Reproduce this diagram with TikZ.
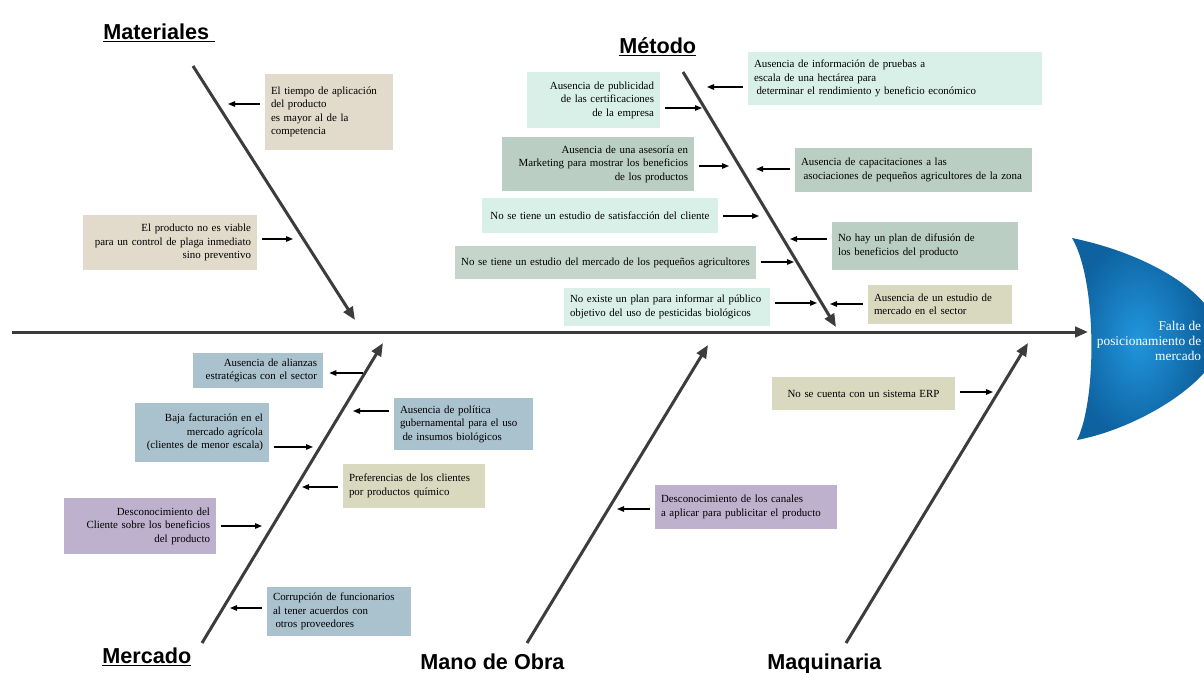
\documentclass[tikz,border=0pt]{standalone}
\usepackage{fontspec}
\setmainfont{Liberation Serif}
\newfontfamily\headfont{Liberation Sans}
\usetikzlibrary{arrows.meta}

\definecolor{bonegray}{HTML}{3C3C3C}
\definecolor{tanbox}{HTML}{E2DACB}
\definecolor{mintbox}{HTML}{D9F0E9}
\definecolor{sagebox}{HTML}{BBCEC3}
\definecolor{steelbox}{HTML}{AAC1CE}
\definecolor{lilacbox}{HTML}{BDB1CE}
\definecolor{olivebox}{HTML}{D9D9C0}
\definecolor{headlight}{HTML}{2196DC}
\definecolor{headdark}{HTML}{0E62A0}

\tikzset{
  bone/.style={line width=0.6mm, draw=bonegray, -{Triangle[length=2.6mm,width=2.1mm]}},
  cause/.style={line width=0.25mm, -{Triangle[length=1.4mm,width=1.1mm]}, shorten <=1mm},
  box/.style={inner xsep=1.2mm, inner ysep=0.6mm, font=\fontsize{6.2}{7.7}\selectfont},
  branchlabel/.style={font=\headfont\bfseries\fontsize{12.3}{14}\selectfont, inner sep=0pt},
}

\begin{document}
\begin{tikzpicture}[x=0.2mm,y=-0.2mm]
\useasboundingbox (0,0) rectangle (1204,672);

% Head of the fish
\shade[inner color=headlight, outer color=headdark] (1072,238) .. controls (1130,250) and (1180,275) .. (1204,303)
    -- (1204,373) .. controls (1175,405) and (1120,432) .. (1077,440)
    .. controls (1097,400) and (1097,280) .. (1072,238) -- cycle;
\node[align=right, anchor=east, text=white, inner sep=0.3mm, font=\fontsize{7.6}{8.6}\selectfont] (effect) at (1203,341) {Falta de\\posicionamiento de\\mercado};

% Spine and bones
\coordinate (tailS) at (12,332);
\coordinate (headS) at (1088,332);
\draw[bone] (tailS) -- (headS);

\coordinate (matTop) at (193,66);  \coordinate (matEnd) at (355,320);
\coordinate (metTop) at (683,72);  \coordinate (metEnd) at (836,327);
\coordinate (merBot) at (202,643); \coordinate (merEnd) at (383,343);
\coordinate (manBot) at (527,643); \coordinate (manEnd) at (708,345);
\coordinate (maqBot) at (846,643); \coordinate (maqEnd) at (1028,343);
\draw[bone] (matTop) -- (matEnd);
\draw[bone] (metTop) -- (metEnd);
\draw[bone] (merBot) -- (merEnd);
\draw[bone] (manBot) -- (manEnd);
\draw[bone] (maqBot) -- (maqEnd);

% Branch labels
\node[branchlabel, anchor=base west] (materiales) at (103,39) {\underline{Materiales\ }};
\node[branchlabel, anchor=base west] (metodo) at (619,53) {\underline{Método}};
\node[branchlabel, anchor=base west] (mercado) at (102,663) {\underline{Mercado}};
\node[branchlabel, anchor=base west] (manoobra) at (420,669) {Mano de Obra};
\node[branchlabel, anchor=base west] (maquinaria) at (767,669) {Maquinaria};

% Materiales
\node[box, fill=tanbox, minimum width=25.6mm, minimum height=15.2mm, text width=23.2mm, align=left] (mat1) at (329,112)
    {El tiempo de aplicación\\del producto\\es mayor al de la\\competencia};
\node[box, fill=tanbox, minimum width=34.8mm, minimum height=11mm, text width=32.4mm, align=right] (mat2) at (170,242.5)
    {El producto no es viable\\para un control de plaga inmediato\\sino preventivo};
\coordinate (mat1t) at (228,104);
\coordinate (mat2t) at (293,239);
\draw[cause] (mat1.west |- mat1t) -- (mat1t);
\draw[cause] (mat2.east |- mat2t) -- (mat2t);

% Metodo, left side
\node[box, fill=mintbox, minimum width=26.6mm, minimum height=11.2mm, text width=24.2mm, align=right] (met1) at (593.5,100)
    {Ausencia de publicidad\\de las certificaciones\\de la empresa};
\node[box, fill=sagebox, minimum width=38.4mm, minimum height=10.8mm, text width=36mm, align=right] (met2) at (598,164)
    {Ausencia de una asesoría en\\Marketing para mostrar los beneficios\\de los productos};
\node[box, fill=mintbox, minimum width=47.2mm, minimum height=7mm, text width=44.8mm, align=center] (met3) at (600,215.5)
    {No se tiene un estudio de satisfacción del cliente};
\node[box, fill=sagebox!85!white, minimum width=60.2mm, minimum height=6.6mm, text width=57.8mm, align=center] (met4) at (605.5,262.5)
    {No se tiene un estudio del mercado de los pequeños agricultores};
\node[box, fill=mintbox, minimum width=41.2mm, minimum height=7.6mm, text width=38.8mm, align=left] (met5) at (667,307)
    {No existe un plan para informar al público\\objetivo del uso de pesticidas biológicos};
\coordinate (met1t) at (702,108);
\coordinate (met2t) at (729,166);
\coordinate (met3t) at (759,216);
\coordinate (met4t) at (794,262);
\coordinate (met5t) at (817,303);
\draw[cause] (met1.east |- met1t) -- (met1t);
\draw[cause] (met2.east |- met2t) -- (met2t);
\draw[cause] (met3.east |- met3t) -- (met3t);
\draw[cause] (met4.east |- met4t) -- (met4t);
\draw[cause] (met5.east |- met5t) -- (met5t);

% Metodo, right side
\node[box, fill=mintbox, minimum width=58.8mm, minimum height=10.6mm, text width=56.4mm, align=left] (met6) at (895,78.5)
    {Ausencia de información de pruebas a\\escala de una hectárea para\\\hspace*{0.5mm}determinar el rendimiento y beneficio económico};
\node[box, fill=sagebox, minimum width=47.4mm, minimum height=8.8mm, text width=45mm, align=left] (met7) at (913.5,170)
    {Ausencia de capacitaciones a las\\\hspace*{0.5mm}asociaciones de pequeños agricultores de la zona};
\node[box, fill=sagebox, minimum width=37.2mm, minimum height=9.6mm, text width=34.8mm, align=left] (met8) at (925,246)
    {No hay un plan de difusión de\\los beneficios del producto};
\node[box, fill=olivebox, minimum width=28.8mm, minimum height=7.8mm, text width=26.4mm, align=left] (met9) at (940,304.5)
    {Ausencia de un estudio de\\mercado en el sector};
\coordinate (met6t) at (707,87);
\coordinate (met7t) at (756,169);
\coordinate (met8t) at (790,239);
\coordinate (met9t) at (830,304);
\draw[cause] (met6.west |- met6t) -- (met6t);
\draw[cause] (met7.west |- met7t) -- (met7t);
\draw[cause] (met8.west |- met8t) -- (met8t);
\draw[cause] (met9.west |- met9t) -- (met9t);

% Mercado
\node[box, fill=steelbox, minimum width=26mm, minimum height=7mm, text width=23.6mm, align=right] (mer1) at (258,370.5)
    {Ausencia de alianzas\\estratégicas con el sector};
\node[box, fill=steelbox, minimum width=26.8mm, minimum height=11.8mm, text width=24.4mm, align=right] (mer2) at (202,432.5)
    {Baja facturación en el\\mercado agrícola\\(clientes de menor escala)};
\node[box, fill=lilacbox, minimum width=30.4mm, minimum height=11.2mm, text width=28mm, align=right] (mer3) at (140,526)
    {Desconocimiento del\\Cliente sobre los beneficios\\del producto};
\node[box, fill=steelbox, minimum width=27.8mm, minimum height=10.4mm, text width=25.4mm, align=left] (mer4) at (463.5,424)
    {Ausencia de política\\gubernamental para el uso\\\hspace*{0.5mm}de insumos biológicos};
\node[box, fill=olivebox, minimum width=28.4mm, minimum height=8.8mm, text width=26mm, align=left] (mer5) at (414,486)
    {Preferencias de los clientes\\por productos químico};
\node[box, fill=steelbox, minimum width=28.8mm, minimum height=9.8mm, text width=26.4mm, align=left] (mer6) at (339,611.5)
    {Corrupción de funcionarios\\al tener acuerdos con\\\hspace*{0.5mm}otros proveedores};
\coordinate (mer1s) at (363,373); % this one points back to its box
\coordinate (mer2t) at (313,447);
\coordinate (mer3t) at (262,526);
\coordinate (mer4t) at (353,411);
\coordinate (mer5t) at (302,487);
\coordinate (mer6t) at (230,608);
\draw[cause, shorten <=0mm, shorten >=1.2mm] (mer1s) -- (mer1.east |- mer1s);
\draw[cause] (mer2.east |- mer2t) -- (mer2t);
\draw[cause] (mer3.east |- mer3t) -- (mer3t);
\draw[cause] (mer4.west |- mer4t) -- (mer4t);
\draw[cause] (mer5.west |- mer5t) -- (mer5t);
\draw[cause] (mer6.west |- mer6t) -- (mer6t);

% Mano de Obra
\node[box, fill=lilacbox, minimum width=36.4mm, minimum height=8.8mm, text width=34mm, align=left] (man1) at (746,507)
    {Desconocimiento de los canales\\a aplicar para publicitar el producto};
\coordinate (man1t) at (617,509);
\draw[cause] (man1.west |- man1t) -- (man1t);

% Maquinaria
\node[box, fill=olivebox, minimum width=36.6mm, minimum height=6.6mm, text width=34.2mm, align=center] (maq1) at (863.5,393.5)
    {No se cuenta con un sistema ERP};
\coordinate (maq1t) at (993,392);
\draw[cause] (maq1.east |- maq1t) -- (maq1t);

\end{tikzpicture}
\end{document}
